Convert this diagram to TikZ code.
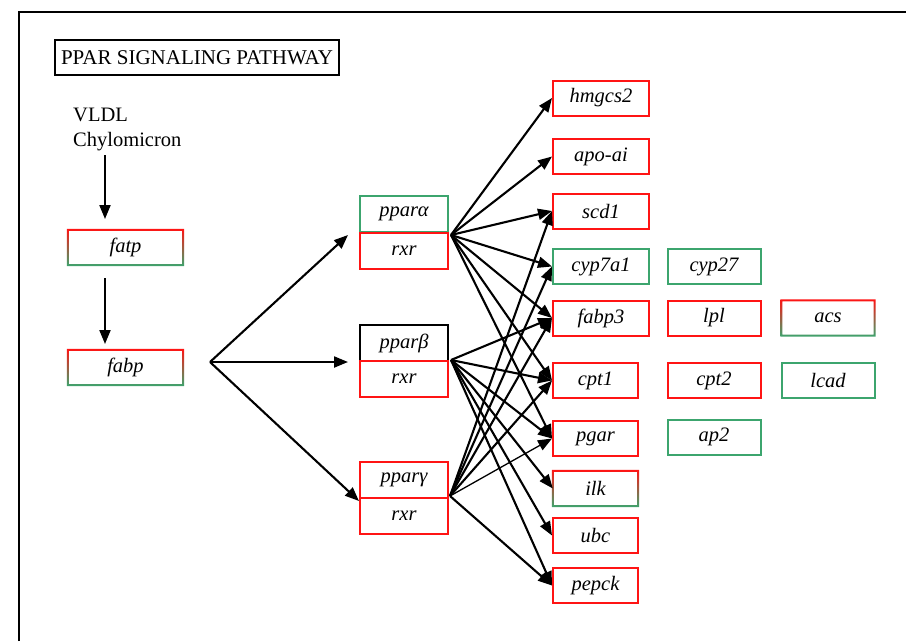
\documentclass[tikz,border=0pt]{standalone}
\usepackage{fontspec}
\setmainfont{Liberation Serif}
\usetikzlibrary{arrows.meta}
\definecolor{myred}{RGB}{255,20,20}
\definecolor{mygreen}{RGB}{60,165,110}
\begin{document}
\begin{tikzpicture}[x=1pt,y=-1pt,
  font=\fontsize{20.5}{25}\selectfont,
  bx/.style={draw=#1, line width=2pt, minimum height=35pt, inner sep=0pt,
     font=\fontsize{20.5}{25}\selectfont\itshape},
  nb/.style={draw=none, minimum height=35pt, inner sep=0pt,
     font=\fontsize{20.5}{25}\selectfont\itshape},
  wa/.style={minimum width=96pt},
  wb/.style={minimum width=85pt},
  wc/.style={minimum width=93pt},
  wp/.style={minimum width=88pt},
  arr/.style={line width=2.1pt, -{Triangle[length=14pt,width=11pt]}},
  arrt/.style={line width=1.3pt, -{Triangle[length=14pt,width=11pt]}},
]
\useasboundingbox (0,0) rectangle (906,641);
\draw[line width=2pt] (19,641) -- (19,12) -- (906,12);

\node[draw=black, line width=2pt, minimum width=284pt, minimum height=35pt, inner sep=0pt, font=\fontsize{21}{25}\selectfont] (title) at (197,57.5) {PPAR SIGNALING PATHWAY};
\node[anchor=west, align=left, inner sep=0pt] (vldl) at (73,129) {VLDL\\Chylomicron};

% gradient boxes
\node[nb, minimum width=115pt] (fatp) at (125.5,247.5) {fatp};
\node[nb, minimum width=115pt] (fabp) at (125.5,367.5) {fabp};
\node[nb, wb] (ilk) at (595.5,488.5) {ilk};
\node[nb, wc] (acs) at (828,318) {acs};
\foreach \n in {fatp,fabp,ilk,acs}{
  \path[top color=myred, bottom color=mygreen, even odd rule]
    ([shift={(-1pt,1pt)}]\n.north west) rectangle ([shift={(1pt,-1pt)}]\n.south east)
    ([shift={(1pt,-1pt)}]\n.north west) rectangle ([shift={(-1pt,1pt)}]\n.south east);
}

% receptors
\node[bx=mygreen, wp, minimum height=36pt] (ppara) at (404,214) {pparα};
\node[bx=myred, wp, minimum height=36pt] (rxra) at (404,251) {rxr};
\node[bx=black, wp, minimum height=36pt] (pparb) at (404,343) {pparβ};
\node[bx=myred, wp, minimum height=36pt] (rxrb) at (404,379) {rxr};
\node[bx=myred, wp, minimum height=36pt] (pparg) at (404,480) {pparγ};
\node[bx=myred, wp, minimum height=36pt] (rxrg) at (404,516) {rxr};

% target genes
\node[bx=myred, wa] (hmgcs) at (601,98) {hmgcs2};
\node[bx=myred, wa] (apo) at (601,156.5) {apo-ai};
\node[bx=myred, wa] (scd) at (601,211) {scd1};
\node[bx=mygreen, wa] (cyp) at (601,266.5) {cyp7a1};
\node[bx=myred, wa] (fabpiii) at (601,318) {fabp3};
\node[bx=myred, wb] (cpt) at (595.5,380.5) {cpt1};
\node[bx=myred, wb] (pgar) at (595.5,438.5) {pgar};
\node[bx=myred, wb] (ubc) at (595.5,535.5) {ubc};
\node[bx=myred, wb] (pepck) at (595.5,585.5) {pepck};
\node[bx=mygreen, wc] (cypb) at (714,266.5) {cyp27};
\node[bx=myred, wc] (lpl) at (714,318) {lpl};
\node[bx=myred, wc] (cptb) at (714,380.5) {cpt2};
\node[bx=mygreen, wc] (ap) at (714,437) {ap2};
\node[bx=mygreen, wc] (lcad) at (828,380.5) {lcad};

% left arrows
\coordinate (a1) at (105,155);
\coordinate (a2) at (105,219);
\coordinate (a3) at (105,278);
\coordinate (a4) at (105,344);
\draw[arr] (a1) -- (a2);
\draw[arr] (a3) -- (a4);
\coordinate (fork) at (210,362);
\coordinate (ta) at (348,235);
\coordinate (tb) at (348,362);
\coordinate (tc) at (359,501);
\draw[arr] (fork) -- (ta);
\draw[arr] (fork) -- (tb);
\draw[arr] (fork) -- (tc);

% source points
\coordinate (sa) at ([shift={(2pt,-3pt)}]rxra.north east);
\coordinate (sb) at ([shift={(2pt,0pt)}]rxrb.north east);
\coordinate (sc) at ([shift={(1pt,1pt)}]rxrg.north east);

\foreach \t in {hmgcs,apo,scd,cyp,fabpiii,cpt,pgar}{
  \draw[arr] (sa) -- (\t.west);
}
\foreach \t in {fabpiii,cpt,pgar,ilk,ubc,pepck}{
  \draw[arr] (sb) -- (\t.west);
}
\foreach \t in {scd,cyp,fabpiii,cpt,pepck}{
  \draw[arr] (sc) -- (\t.west);
}
\draw[arrt] (sc) -- (pgar.west);
\end{tikzpicture}
\end{document}
